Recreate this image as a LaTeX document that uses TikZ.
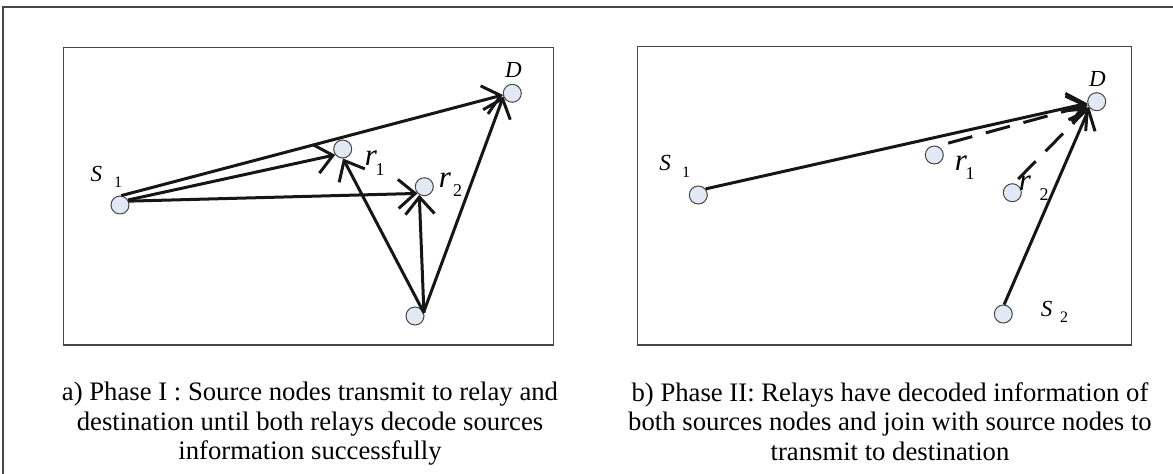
\documentclass[tikz,border=0pt]{standalone}
\usepackage{fontspec}
\setmainfont{Liberation Serif}
\usetikzlibrary{arrows.meta}
\definecolor{nodefill}{RGB}{226,233,245}
\definecolor{nodeline}{RGB}{70,70,70}
\definecolor{frameline}{RGB}{70,70,70}
\definecolor{ink}{RGB}{22,22,22}
\begin{document}
\begin{tikzpicture}[x=1pt,y=-1pt,
  nd/.style={circle,draw=nodeline,fill=nodefill,line width=1pt,minimum size=18pt,inner sep=0pt},
  arr/.style={draw=ink,line width=3pt,-{Straight Barb[length=17pt,width=29pt]}},
  dsh/.style={arr,dash pattern=on 25pt off 14pt},
  lblS/.style={inner sep=0pt,font=\fontsize{23}{23}\selectfont\itshape},
  lblr/.style={inner sep=0pt,font=\fontsize{31}{31}\selectfont\itshape},
  subs/.style={inner sep=0pt,font=\fontsize{16}{16}\selectfont},
  subr/.style={inner sep=0pt,font=\fontsize{18}{18}\selectfont},
  captext/.style={inner sep=0pt,align=center,anchor=north,font=\fontsize{26.7}{29.5}\selectfont},
  panelbox/.style={draw=frameline,line width=1.2pt}]
\useasboundingbox (0,0) rectangle (1173,474);
% outer frame
\draw[draw=frameline,line width=1.5pt] (3,7) rectangle (1200,500);
% panel boxes
\draw[panelbox] (63.3,47.3) rectangle (553.6,345);
\draw[panelbox] (637.5,46.5) rectangle (1131.7,345);

% ---------- left panel ----------
\node[nd] (lS1) at (120,205) {};
\node[nd] (lr1) at (342.7,149) {};
\node[nd] (lr2) at (424.3,186.7) {};
\node[nd] (lD)  at (512.3,93.3) {};
\node[nd] (lS2) at (415,316) {};

\node[lblS] (lS1t) at (96.3,173.7) {S};
\node[subs] (lS1s) at (118,182) {1};
\node[lblr] (lr1t) at (371,158) {r};
\node[subr] (lr1s) at (380,169.5) {1};
\node[lblr] (lr2t) at (445,180) {r};
\node[subr] (lr2s) at (457.5,190.5) {2};
\node[lblS] (lDt) at (513.3,70) {D};

\draw[arr] (lS1.82) -- (lD.190);
\draw[arr] (lS1.32) -- (lr1.218);
\draw[arr] (lS1.24) -- (lr2.225);
\draw[arr] (lS2.18) -- (lr1.272);
\draw[arr] (lS2.20) -- (lr2.238);
\draw[arr] (lS2.24) -- (lD.200);

% ---------- right panel ----------
\node[nd] (rS1) at (698.3,195) {};
\node[nd] (rr1) at (934.3,155) {};
\node[nd] (rr2) at (1012.3,192.7) {};
\node[nd] (rD)  at (1096.7,101.7) {};
\node[nd] (rS2) at (1003.3,314) {};

\node[lblS] (rS1t) at (665,163.3) {S};
\node[subs] (rS1s) at (686,172.7) {1};
\node[lblr] (rr1t) at (961,163) {r};
\node[subr] (rr1s) at (970,174) {1};
\node[lblr] (rr2t) at (1025,183.3) {r};
\node[subr] (rr2s) at (1044,194.5) {2};
\node[lblS] (rDt) at (1097.3,79.3) {D};
\node[lblS] (rS2t) at (1046.7,309.3) {S};
\node[subs] (rS2s) at (1064,316.7) {2};

\draw[arr] (rS1.40) -- (rD.190);
\draw[dsh,shorten <=11pt] (rr1.70) -- (rD.200);
\draw[dsh,shorten <=6pt] (rr2.80) -- (rD.215);
\draw[arr] (rS2.85) -- (rD.220);

% ---------- captions ----------
\node[captext] (capa) at (310,382) {a) Phase I : Source nodes transmit to relay and\\destination until both relays decode sources\\information successfully};
\node[captext] (capb) at (890,382) {b) Phase II: Relays have decoded information of\\both sources nodes and join with source nodes to\\transmit to destination};
\end{tikzpicture}
\end{document}
